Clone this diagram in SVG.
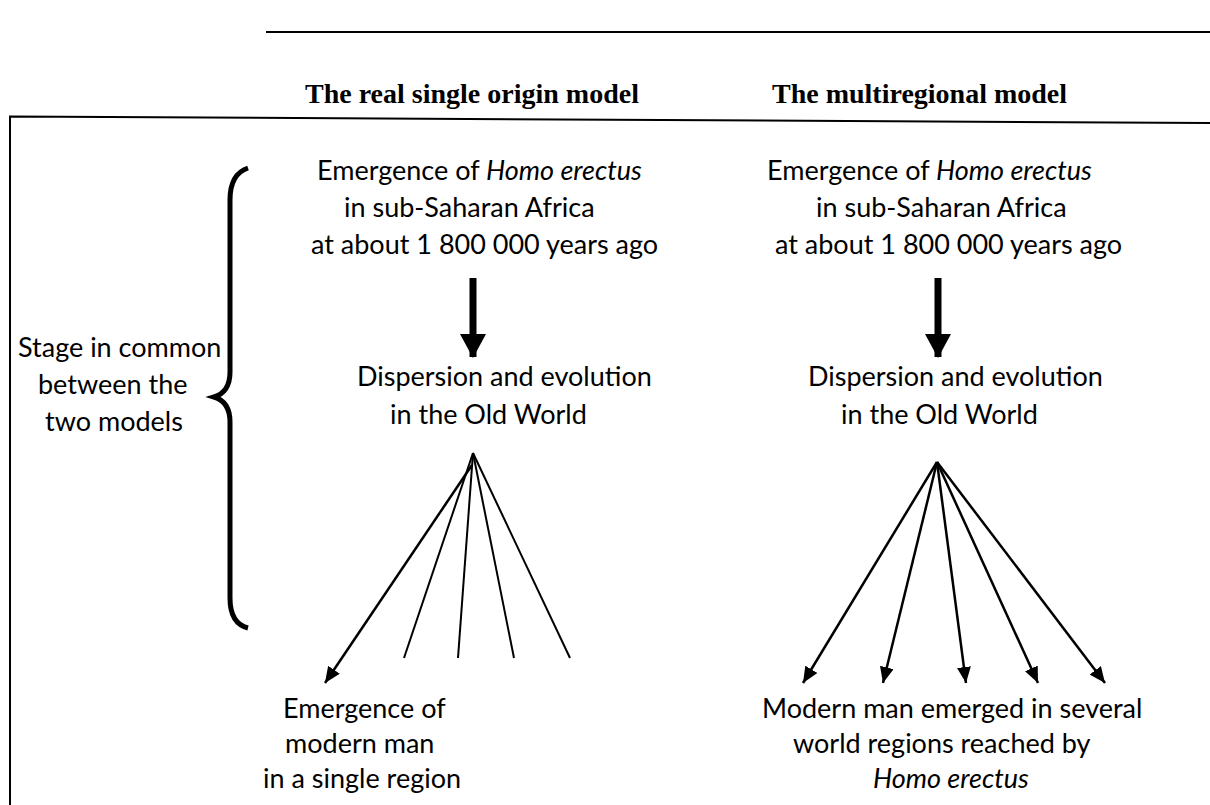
<svg xmlns="http://www.w3.org/2000/svg" width="1210" height="805" viewBox="0 0 1210 805">
<style>
.t{font-family:Lato,"Liberation Sans",sans-serif;font-size:27px;fill:#000}
.h{font-family:"Liberation Serif","Times New Roman",serif;font-size:28px;font-weight:bold;fill:#000}
.ln{stroke:#000;stroke-width:2;fill:none}
.c{stroke:#000;stroke-width:2;fill:none}
.ca{stroke:#000;stroke-width:2.5;fill:none;marker-end:url(#ah)}
.big{stroke:#000;stroke-width:7;fill:none;marker-end:url(#bh)}
</style>
<defs>
<marker id="ah" markerUnits="userSpaceOnUse" markerWidth="16" markerHeight="14" viewBox="0 0 16 14" refX="16" refY="7" orient="auto"><path d="M0,0 L16,7 L0,14 Z" fill="#000"/></marker>
<marker id="bh" markerUnits="userSpaceOnUse" markerWidth="24" markerHeight="26" viewBox="0 0 24 26" refX="23" refY="13" orient="auto"><path d="M0,0 L24,13 L0,26 Z" fill="#000"/></marker>
</defs>
<rect width="1210" height="805" fill="#fff"/>
<g id="frame">
<line class="ln" x1="266" y1="32" x2="1210" y2="32"/>
<path class="ln" d="M10,805 L10,116.5 L1210,123"/>
</g>
<g id="title-left"><text class="h" x="305" y="103">The real single origin model</text></g>
<g id="title-right"><text class="h" x="772" y="103">The multiregional model</text></g>
<g id="common-label">
<text class="t" x="18" y="357">Stage in common</text>
<text class="t" x="38" y="394">between the</text>
<text class="t" x="45" y="431">two models</text>
</g>
<g id="brace"><path d="M248,168 C236,172 230,182 230,200 L230,372 C230,386 224,394 214,397 C224,400 230,408 230,422 L230,598 C230,615 236,625 248,628" fill="none" stroke="#000" stroke-width="5"/></g>
<g id="left-top">
<text class="t" x="317" y="180">Emergence of <tspan font-style="italic">Homo erectus</tspan></text>
<text class="t" x="344" y="217">in sub-Saharan Africa</text>
<text class="t" x="311" y="254">at about 1 800 000 years ago</text>
</g>
<g id="right-top">
<text class="t" x="767" y="180">Emergence of <tspan font-style="italic">Homo erectus</tspan></text>
<text class="t" x="816" y="217">in sub-Saharan Africa</text>
<text class="t" x="775" y="254">at about 1 800 000 years ago</text>
</g>
<g id="left-mid">
<text class="t" x="357" y="386">Dispersion and evolution</text>
<text class="t" x="390" y="424">in the Old World</text>
</g>
<g id="right-mid">
<text class="t" x="808" y="386">Dispersion and evolution</text>
<text class="t" x="841" y="424">in the Old World</text>
</g>
<g id="left-bottom">
<text class="t" x="283" y="718">Emergence of</text>
<text class="t" x="285" y="753">modern man</text>
<text class="t" x="263" y="788">in a single region</text>
</g>
<g id="right-bottom">
<text class="t" x="762" y="718">Modern man emerged in several</text>
<text class="t" x="793" y="753">world regions reached by</text>
<text class="t" x="873" y="788" font-style="italic">Homo erectus</text>
</g>
<g id="connectors">
<line class="big" x1="473" y1="278" x2="473" y2="357"/>
<line class="big" x1="938" y1="278" x2="938" y2="357"/>
<line class="ca" x1="472" y1="465" x2="325" y2="683"/>
<line class="c" x1="473" y1="453" x2="404" y2="658"/>
<line class="c" x1="473" y1="453" x2="458" y2="658"/>
<line class="c" x1="473" y1="453" x2="514" y2="658"/>
<line class="c" x1="473" y1="453" x2="570" y2="658"/>
<line class="ca" x1="937" y1="462" x2="803" y2="683"/>
<line class="ca" x1="937" y1="462" x2="883" y2="683"/>
<line class="ca" x1="937" y1="462" x2="966" y2="683"/>
<line class="ca" x1="937" y1="462" x2="1038" y2="683"/>
<line class="ca" x1="937" y1="462" x2="1105" y2="683"/>
</g>
</svg>
